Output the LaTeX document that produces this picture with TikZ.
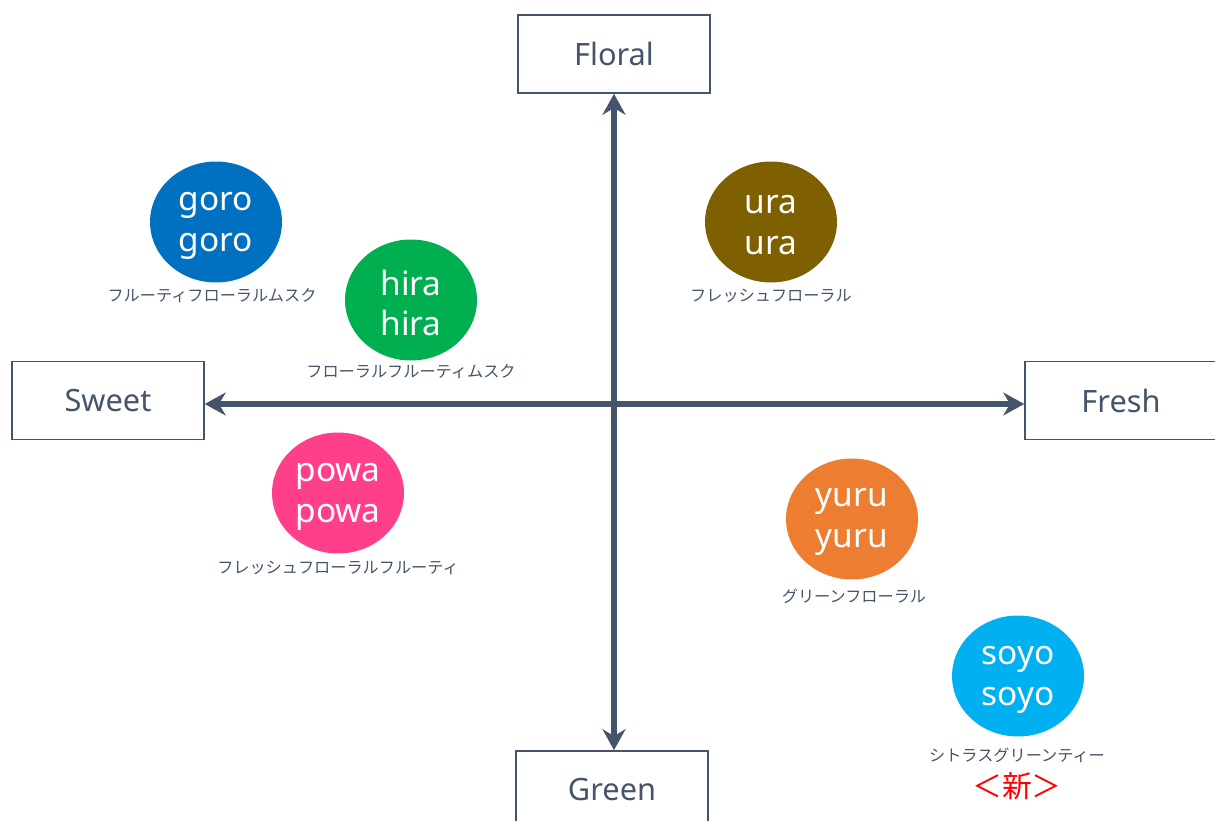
\documentclass[tikz,border=0pt]{standalone}
\usepackage{fontspec}
\setmainfont{Noto Sans}
\newfontfamily\jp{Noto Sans CJK JP}
\usetikzlibrary{shapes.geometric,arrows.meta}
\definecolor{slate}{HTML}{44546A}
\definecolor{cgoro}{HTML}{0070C0}
\definecolor{chira}{HTML}{00B050}
\definecolor{cura}{HTML}{7F6000}
\definecolor{cpowa}{HTML}{FF3F8A}
\definecolor{cyuru}{HTML}{ED7D31}
\definecolor{csoyo}{HTML}{00B0F0}
\tikzset{
  axisbox/.style={draw=slate, line width=0.9pt, fill=white, minimum width=3.84cm, minimum height=1.56cm, inner sep=0pt, font=\fontsize{17.5}{18}\selectfont, text=slate},
  blob/.style={ellipse, minimum width=2.64cm, minimum height=2.42cm, inner sep=0pt, text=white, align=center, font=\fontsize{19}{23.2}\selectfont},
  sub/.style={font=\jp\fontsize{9.2}{10}\selectfont, text=slate, inner sep=0pt},
  axisline/.style={draw=slate, line width=3.5pt, {Stealth[length=0.42cm,width=0.46cm]}-{Stealth[length=0.42cm,width=0.46cm]}}
}
\begin{document}
\begin{tikzpicture}[x=0.02cm,y=-0.02cm]
\useasboundingbox (0,0) rectangle (1215,821);
\begin{scope}
\clip (0,0) rectangle (1215,821);
\node[axisbox] (floral) at (614,54) {Floral};
\node[axisbox] (sweet) at (108,400.5) {Sweet};
\node[axisbox] (fresh) at (1121,400.5) {Fresh};
\node[axisbox] (green) at (612,790) {Green};
\draw[axisline] (green.north -| floral.south) -- (floral.south);
\draw[axisline] (sweet.east |- 0,404) -- (fresh.west |- 0,404);
\end{scope}

\node[blob, fill=cgoro] (goro) at (216,222) {};
\node[text=white, align=center, font=\fontsize{19}{23.2}\selectfont] at (216,226) {goro\\goro};
\node[blob, fill=chira] (hira) at (411,300) {};
\node[text=white, align=center, font=\fontsize{19}{23.2}\selectfont] at (411,303) {hira\\hira};
\node[blob, fill=cura] (ura) at (771,222) {};
\node[text=white, align=center, font=\fontsize{19}{23.2}\selectfont] at (771,225) {ura\\ura};
\node[blob, fill=cpowa] (powa) at (338,493) {};
\node[text=white, align=center, font=\fontsize{19}{23.2}\selectfont] at (338,497) {powa\\powa};
\node[blob, fill=cyuru] (yuru) at (852,519) {};
\node[text=white, align=center, font=\fontsize{19}{23.2}\selectfont] at (852,522) {yuru\\yuru};
\node[blob, fill=csoyo] (soyo) at (1018,676) {};
\node[text=white, align=center, font=\fontsize{19}{23.2}\selectfont] at (1018,680) {soyo\\soyo};

\node[sub] (goroL) at (212,296) {フルーティフローラルムスク};
\node[sub] (hiraL) at (411,372) {フローラルフルーティムスク};
\node[sub] (uraL) at (771,296) {フレッシュフローラル};
\node[sub] (powaL) at (338,568) {フレッシュフローラルフルーティ};
\node[sub] (yuruL) at (854,596) {グリーンフローラル};
\node[sub] (soyoL) at (1017,755) {シトラスグリーンティー};
\node[font=\jp\fontsize{17}{20}\selectfont, text=red, inner sep=0pt] (newL) at (1017,786) {＜新＞};
\end{tikzpicture}
\end{document}
